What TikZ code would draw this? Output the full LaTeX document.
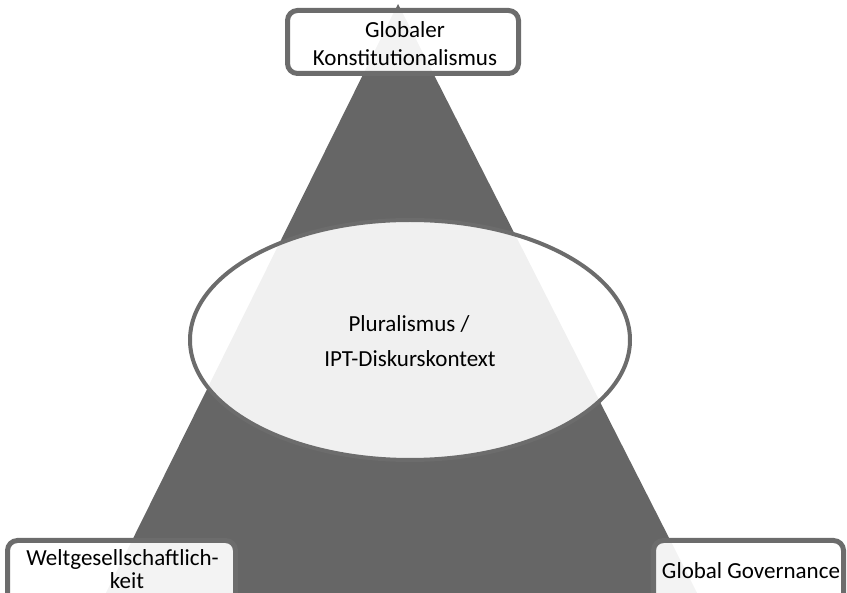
\documentclass[tikz,border=0pt]{standalone}
\usepackage{fontspec}
\setmainfont{Carlito}
\usetikzlibrary{shapes.geometric}
\definecolor{tri}{HTML}{666666}
\definecolor{edge}{HTML}{6C6C6C}
\begin{document}
\begin{tikzpicture}[x=1pt,y=-1pt,
  box/.style={draw=edge, line width=5pt, rounded corners=10pt, fill=white, fill opacity=0.92, inner sep=0pt},
  lbl/.style={font=\fontsize{23}{28}\selectfont, text=black, inner sep=0pt, anchor=base}]
\useasboundingbox (0,0) rectangle (847,593);
\clip (0,0) rectangle (847,593);
% triangle
\fill[tri] (398,4) -- (106,593) -- (697,593) -- cycle;
% ellipse
\node[ellipse, draw=edge, line width=4pt, fill=white, fill opacity=0.9, minimum width=440pt, minimum height=240pt, inner sep=0pt] (ell) at (410,340) {};
% boxes
\node[box, minimum width=231pt, minimum height=63pt] (top) at (403,42) {};
\node[box, minimum width=228pt, minimum height=66pt] (left) at (121.5,573.5) {};
\node[box, minimum width=190pt, minimum height=70pt] (right) at (748.5,575.5) {};
% texts
\node[lbl] (t1) at (405,38) {Globaler};
\node[lbl] (t2) at (405,66) {Konstitutionalismus};
\node[lbl] (e1) at (409,332) {Pluralismus /};
\node[lbl] (e2) at (410,367) {IPT-Diskurskontext};
\node[lbl] (l1) at (122.5,566) {Weltgesellschaftlich-};
\node[lbl] (l2) at (127,588.5) {keit};
\node[lbl] (r1) at (751,579) {Global Governance};
\end{tikzpicture}
\end{document}
